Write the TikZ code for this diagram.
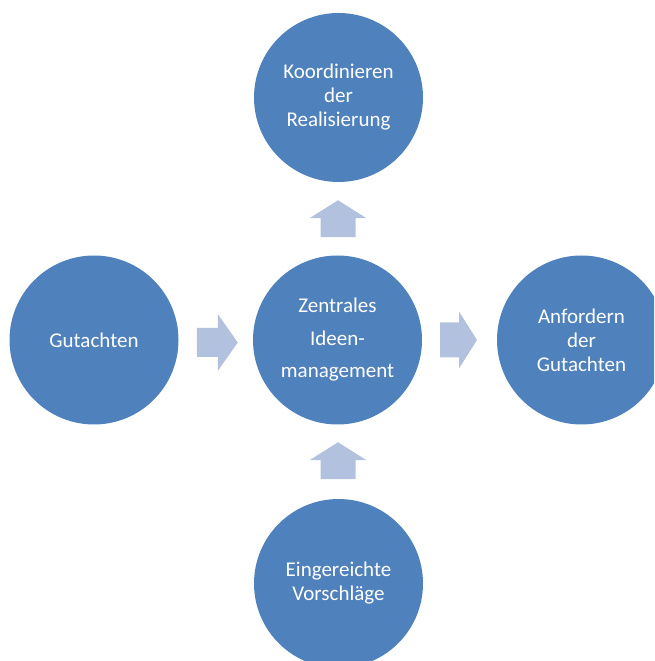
\documentclass[tikz,border=0pt]{standalone}
\usepackage{fontspec}
\setmainfont{Carlito}
\usepackage{tikz}
\usetikzlibrary{calc}

\definecolor{kreisblau}{HTML}{4F81BD}
\definecolor{pfeilblau}{HTML}{B2C2DE}

\begin{document}
\begin{tikzpicture}[x=1pt,y=1pt,
    kreis/.style={circle,fill=kreisblau,text=white,inner sep=0pt,
      minimum size=169pt,align=center,font=\fontsize{21}{24}\selectfont},
    pfeil/.pic={\fill[pfeilblau] (-18.5,-17.5) -- (0.5,-17.5) -- (0.5,-28.5)
      -- (18.5,0) -- (0.5,28.5) -- (0.5,17.5) -- (-18.5,17.5) -- cycle;},
    pfeilschmal/.pic={\fill[pfeilblau] (-20.5,-14.5) -- (0.5,-14.5) -- (0.5,-28.5)
      -- (20.5,0) -- (0.5,28.5) -- (0.5,14.5) -- (-20.5,14.5) -- cycle;}]
  \useasboundingbox (0,0) rectangle (654,661);
  \clip (0,0) rectangle (654,661);
  \node[kreis,font=\fontsize{21}{32.5}\selectfont] (zim) at (337.5,321)
    {Zentrales\\Ideen-\\management};
  \node[kreis] (kr) at (338.5,563.5) {Koordinieren\\der\\Realisierung};
  \node[kreis] (gu) at (94,321) {Gutachten};
  \node[kreis] (ag) at (581.5,321) {Anfordern\\der\\Gutachten};
  \node[kreis] (ev) at (338.5,77.5) {Eingereichte\\Vorschläge};
  % Blockpfeile zwischen den Kreisen
  \pic at ($(gu)!0.5!(zim)+(1.5,-2.5)$) {pfeilschmal};
  \pic at ($(zim)!0.5!(ag)+(-1,0)$) {pfeil};
  \pic[rotate=90] at ($(zim)!0.5!(kr)$) {pfeil};
  \pic[rotate=90] at ($(ev)!0.5!(zim)+(0,1)$) {pfeil};
\end{tikzpicture}
\end{document}
